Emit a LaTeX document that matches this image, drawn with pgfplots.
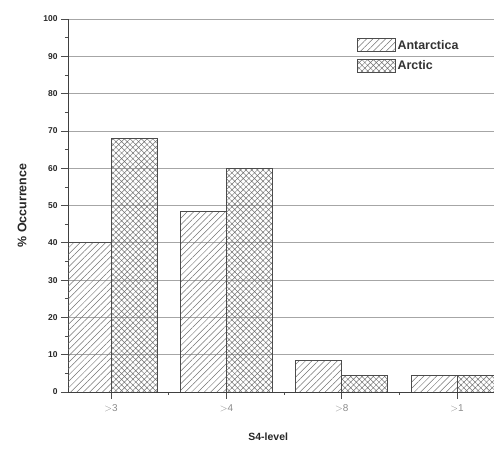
\documentclass[border=0pt]{standalone}
\usepackage{fontspec}
\setmainfont{Liberation Sans}
\usepackage{pgfplots}
\pgfplotsset{compat=1.18}
\usetikzlibrary{patterns.meta}
\begin{document}
\begin{tikzpicture}
\begin{axis}[
  scale only axis,
  width=426bp, height=373bp,
  xmin=-0.374, xmax=3.32,
  ymin=0, ymax=100,
  axis lines*=left,
  axis line style={draw=black!75, line width=0.8pt},
  xtick={0,1,2,3},
  xticklabels={{$>$3},{$>$4},{$>$8},{$>$1}},
  minor xtick={0.5,1.5,2.5},
  ytick={0,10,...,100},
  minor ytick={5,15,...,95},
  tick align=outside,
  major tick length=7bp,
  minor tick length=3bp,
  tick style={black!70, line width=0.6pt},
  ymajorgrids,
  grid style={black!35, line width=0.6pt},
  x tick label style={font=\fontsize{10}{11}\selectfont, text=black!45, yshift=-2bp},
  y tick label style={font=\bfseries\fontsize{8.5}{9}\selectfont, text=black!85},
  /pgf/number format/assume math mode=true,
  xlabel={\bfseries S4-level},
  ylabel={\bfseries \% Occurrence},
  xlabel style={font=\fontsize{10.5}{12}\selectfont, text=black!85, at={(axis description cs:0.47,0)}, anchor=center, yshift=-45bp},
  ylabel style={font=\fontsize{12.5}{14}\selectfont, text=black!85, at={(axis description cs:-0.108,0.5)}, anchor=center},
  legend style={at={(0.675,0.952)}, anchor=north west, draw=none, fill=white, fill opacity=0, text opacity=1,
    font=\bfseries\fontsize{12.5}{14}\selectfont, text=black!80, row sep=6bp, inner sep=1bp},
  legend image code/.code={\draw[#1] (0bp,-6.5bp) rectangle (38bp,6.5bp);},
  legend cell align=left,
  clip=true,
]
\addplot[ybar, bar width=46bp, bar shift=-23bp, draw=black!70, line width=0.8pt,
  pattern={Lines[angle=45,distance=4.5bp,line width=0.5bp]}, pattern color=black!55]
  coordinates {(0,40) (1,48.5) (2,8.5) (3,4.5)};
\addlegendentry{Antarctica}
\addplot[ybar, bar width=46bp, bar shift=23bp, draw=black!70, line width=0.8pt,
  pattern={Hatch[angle=45,distance=4bp,line width=0.5bp]}, pattern color=black!55]
  coordinates {(0,68) (1,60) (2,4.5) (3,4.5)};
\addlegendentry{Arctic}
\end{axis}
\pgfresetboundingbox
\path (-68bp,-58bp) rectangle (426bp,392bp);
\end{tikzpicture}
\end{document}
